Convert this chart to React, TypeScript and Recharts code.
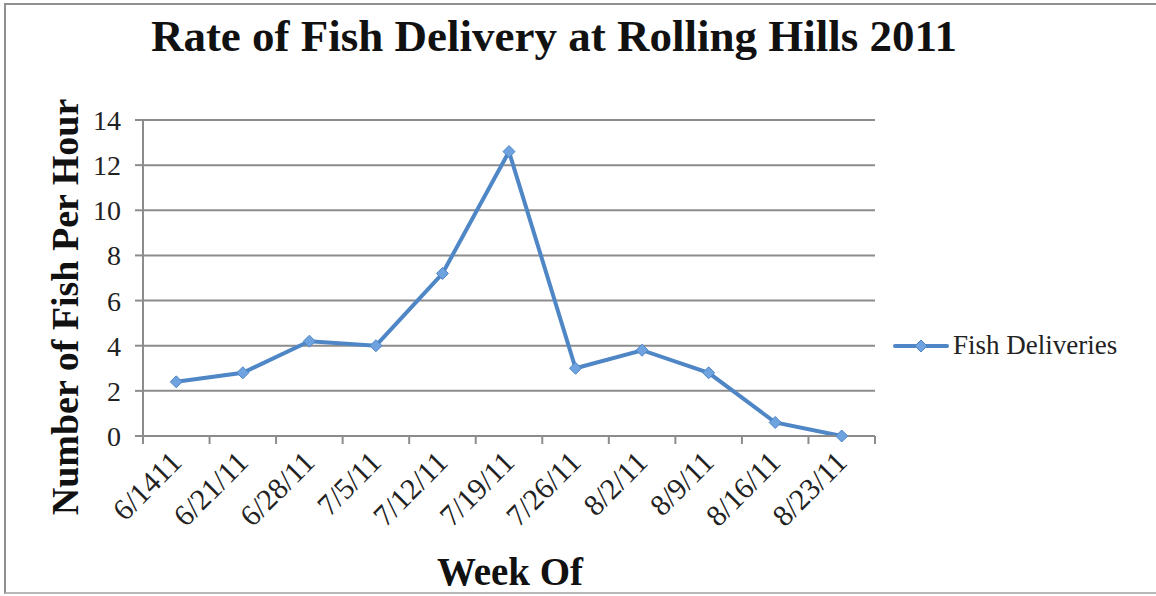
import { LineChart, Line, XAxis, YAxis, CartesianGrid, Label } from "recharts";

const weeks = [
  "6/1411",
  "6/21/11",
  "6/28/11",
  "7/5/11",
  "7/12/11",
  "7/19/11",
  "7/26/11",
  "8/2/11",
  "8/9/11",
  "8/16/11",
  "8/23/11",
];
const fishPerHour = [2.4, 2.8, 4.2, 4.0, 7.2, 12.6, 3.0, 3.8, 2.8, 0.6, 0];
const yTicks = [0, 2, 4, 6, 8, 10, 12, 14];

const data = weeks.map((week, i) => ({ week, fish: fishPerHour[i] }));

const W = 1156;
const H = 596;
const PLOT_LEFT = 143;
const PLOT_RIGHT = 875;
const PLOT_TOP = 120;
const PLOT_BOTTOM = 436;
const BAND = (PLOT_RIGHT - PLOT_LEFT) / weeks.length;

const FONT = "'Liberation Serif', 'DejaVu Serif', serif";
const GRID = "#8c8c8c";
const BLUE = "#4f86c6";
const BLUE_LIGHT = "#6fa3e0";

function Diamond({ cx, cy, r = 6 }: { cx: number; cy: number; r?: number }) {
  return (
    <path
      d={`M${cx},${cy - r} L${cx + r},${cy} L${cx},${cy + r} L${cx - r},${cy} Z`}
      fill={BLUE_LIGHT}
      stroke={BLUE}
      strokeWidth={1}
    />
  );
}

// category label plus the tick marks that sit between categories
function WeekTick(props: any) {
  const { x, payload, index } = props;
  const left = x - BAND / 2;
  const ax = PLOT_BOTTOM;
  const tx = x + 7;
  const ty = ax + 28;
  return (
    <g>
      <line x1={left} y1={ax} x2={left} y2={ax + 8} stroke={GRID} strokeWidth={2} />
      {index === weeks.length - 1 && (
        <line x1={x + BAND / 2} y1={ax} x2={x + BAND / 2} y2={ax + 8} stroke={GRID} strokeWidth={2} />
      )}
      <text
        x={tx}
        y={ty}
        transform={`rotate(-45, ${tx}, ${ty})`}
        textAnchor="end"
        fontSize={30}
        fontFamily={FONT}
        fill="#222"
      >
        {payload.value}
      </text>
    </g>
  );
}

export default function App() {
  return (
    <div
      style={{
        position: "absolute",
        left: 0,
        top: 0,
        width: W,
        height: H,
        background: "#fff",
        fontFamily: FONT,
      }}
    >
      <div
        style={{
          position: "absolute",
          left: 4,
          top: 3,
          width: W - 4,
          height: H - 5,
          borderLeft: "2px solid #909090",
          borderTop: "2px solid #909090",
          borderBottom: "2px solid #b8b8b8",
          boxSizing: "border-box",
        }}
      />
      <div
        style={{
          position: "absolute",
          left: 0,
          top: 10,
          width: 1108,
          textAlign: "center",
          fontSize: 45,
          fontWeight: "bold",
          color: "#111",
        }}
      >
        Rate of Fish Delivery at Rolling Hills 2011
      </div>
      <div style={{ position: "absolute", left: 0, top: 0 }}>
        <LineChart
          width={W}
          height={H}
          data={data}
          margin={{ top: PLOT_TOP, right: W - PLOT_RIGHT, bottom: 0, left: 0 }}
        >
          <CartesianGrid vertical={false} stroke={GRID} strokeWidth={2} />
          <XAxis
            dataKey="week"
            height={H - PLOT_BOTTOM}
            stroke={GRID}
            strokeWidth={2}
            tickLine={false}
            interval={0}
            padding={{ left: BAND / 2, right: BAND / 2 }}
            tick={<WeekTick />}
          >
            <Label
              content={() => (
                <text
                  x={510}
                  y={585}
                  textAnchor="middle"
                  fontSize={39}
                  fontWeight="bold"
                  fontFamily={FONT}
                  fill="#111"
                >
                  Week Of
                </text>
              )}
            />
          </XAxis>
          <YAxis
            width={PLOT_LEFT}
            domain={[0, 14]}
            ticks={yTicks}
            stroke={GRID}
            strokeWidth={2}
            tickSize={8}
            tickMargin={14}
            tick={{ fontSize: 28, fontFamily: FONT, fill: "#222" }}
          >
            <Label
              content={() => (
                <text
                  x={78}
                  y={307}
                  transform="rotate(-90, 78, 307)"
                  textAnchor="middle"
                  fontSize={38}
                  fontWeight="bold"
                  fontFamily={FONT}
                  fill="#111"
                >
                  Number of Fish Per Hour
                </text>
              )}
            />
          </YAxis>
          <Line
            type="linear"
            dataKey="fish"
            name="Fish Deliveries"
            stroke={BLUE}
            strokeWidth={4}
            isAnimationActive={false}
            dot={(p: any) => <Diamond key={p.index} cx={p.cx} cy={p.cy} />}
            activeDot={false}
          />
        </LineChart>
      </div>
      <div
        style={{
          position: "absolute",
          left: 893,
          top: 330,
          display: "flex",
          alignItems: "center",
          fontSize: 27,
          color: "#222",
        }}
      >
        <svg width={60} height={30}>
          <line x1={2} y1={15} x2={54} y2={15} stroke={BLUE} strokeWidth={4} strokeLinecap="round" />
          <Diamond cx={28} cy={15} r={6} />
        </svg>
        <span>Fish Deliveries</span>
      </div>
    </div>
  );
}
